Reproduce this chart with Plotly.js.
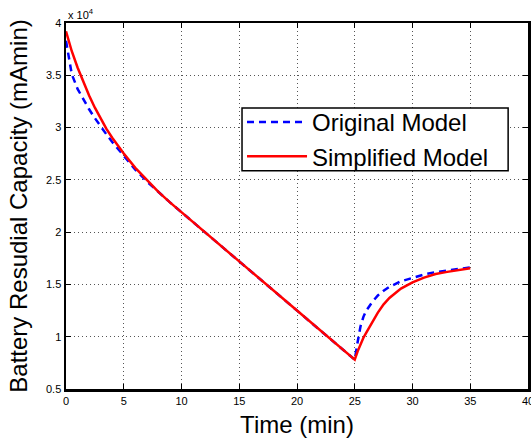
<!DOCTYPE html>
<html>
<head>
<meta charset="utf-8">
<script src="https://cdn.plot.ly/plotly-3.0.1.min.js"></script>
<style>html,body{margin:0;padding:0;background:#fff;}#chart{width:531px;height:443px;}</style>
</head>
<body>
<div id="chart"></div>
<script>
// Time in minutes
var time = [0,0.25,0.5,1,1.5,2,2.5,3,3.5,4,5,6,7,8,9,10,15,20,25,25.25,25.5,25.75,26,26.5,27,27.5,28,29,30,31,32,33,34,35];
// Battery residual capacity (mAmin)
var originalModel = [38300,36500,35100,33700,32650,31750,30900,30100,29350,28625,27250,25980,24850,23820,22850,21900,17200,12500,7800,9500,11000,11900,12500,13300,13950,14400,14770,15300,15650,15950,16180,16350,16500,16630];
var simplifiedModel = [39200,38200,37300,35750,34350,33075,31900,30825,29875,29025,27525,26150,24950,23850,22850,21900,17200,12500,7800,8600,9300,9900,10400,11400,12300,13100,13700,14600,15200,15650,16000,16200,16400,16550];
var seriesNames = ["Original Model", "Simplified Model"];
var xTicks = [0,5,10,15,20,25,30,35,40];
var yTickVals = [5000,10000,15000,20000,25000,30000,35000,40000];
var yTickText = ["0.5","1","1.5","2","2.5","3","3.5","4"];

var font = "Liberation Sans, Arial, Helvetica, sans-serif";

var traces = [
  {x: time, y: originalModel, name: seriesNames[0], mode: "lines",
   line: {color: "#0000ff", width: 2.5, dash: "7px,5px"}},
  {x: time, y: simplifiedModel, name: seriesNames[1], mode: "lines",
   line: {color: "#ff0000", width: 2.5}}
];

var axisCommon = {
  showline: true, linecolor: "#000", linewidth: 2.5, mirror: "allticks",
  ticks: "inside", ticklen: 5, tickwidth: 1, tickcolor: "#000",
  showgrid: true, gridcolor: "#555", gridwidth: 1, griddash: "1px,3px",
  zeroline: false, ticklabeloverflow: "allow",
  tickfont: {family: font, size: 11, color: "#000"}
};

var layout = {
  width: 531, height: 443,
  margin: {l: 66, r: 3, t: 23, b: 54},
  paper_bgcolor: "#fff", plot_bgcolor: "#fff",
  showlegend: true,
  xaxis: Object.assign({}, axisCommon, {
    range: [0, 40], tickvals: xTicks, ticktext: xTicks.map(String),
    title: {text: "Time (min)", font: {family: font, size: 24, color: "#000"}, standoff: 11}
  }),
  yaxis: Object.assign({}, axisCommon, {
    range: [5000, 40000], tickvals: yTickVals, ticktext: yTickText,
    title: {text: "Battery Resudial Capacity (mAmin)", font: {family: font, size: 24, color: "#000"}, standoff: 12}
  }),
  legend: {
    x: 0.381, y: 0.79, xanchor: "left", yanchor: "top",
    bgcolor: "rgba(0,0,0,0)", borderwidth: 0,
    font: {family: font, size: 24, color: "#000"},
    itemwidth: 60
  },
  // legend frame
  shapes: [{
    type: "rect", xref: "paper", yref: "paper", x0: 0.381, x1: 0.957, y0: 0.596, y1: 0.768,
    line: {color: "#000", width: 1.5}, fillcolor: "#fff", layer: "above"
  }],
  annotations: [{
    xref: "paper", yref: "paper", x: 0, y: 1, xanchor: "left", yanchor: "bottom",
    text: "x 10<sup>4</sup>", showarrow: false, font: {family: font, size: 11, color: "#000"}, yshift: 0
  }]
};

Plotly.newPlot("chart", traces, layout, {displayModeBar: false, staticPlot: true});
</script>
</body>
</html>
